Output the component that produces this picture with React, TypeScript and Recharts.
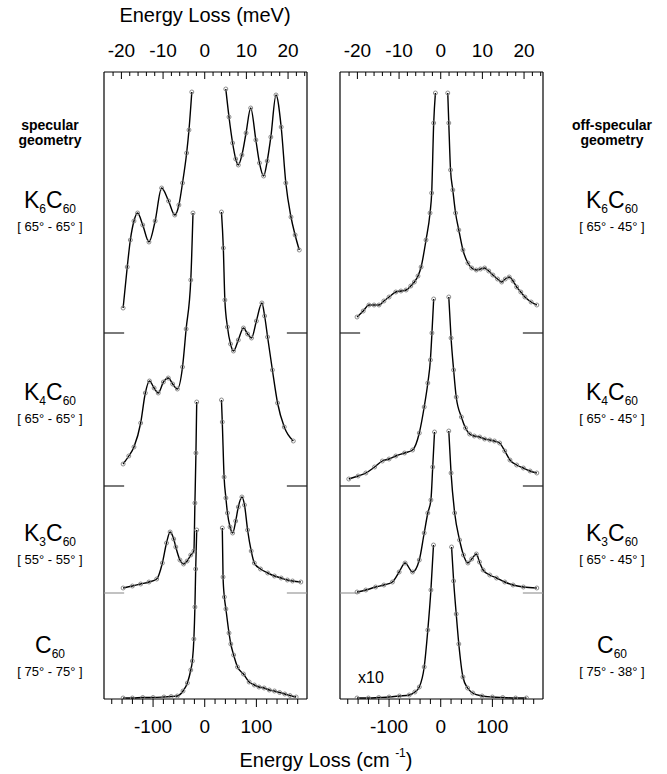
import React from 'react';
import { LineChart, Line, XAxis, YAxis, ReferenceLine } from 'recharts';

const FONT = '"Liberation Sans", Arial, Helvetica, sans-serif';
const CM_PER_MEV = 8.0655;

const xDomain = [-195, 198];
const yDomain = [0, 627];
const cmTicks = [-180, -160, -140, -120, -100, -80, -60, -40, -20, 0, 20, 40, 60, 80, 100, 120, 140, 160, 180];
const cmLabels = [-100, 0, 100];
const meVTicks = [-22, -20, -18, -16, -14, -12, -10, -8, -6, -4, -2, 0, 2, 4, 6, 8, 10, 12, 14, 16, 18, 20, 22, 24];
const meVLabels = [-20, -10, 0, 10, 20];

const compounds = ['K6C60', 'K4C60', 'K3C60', 'C60'];
const specAngles = ['[ 65° - 65° ]', '[ 65° - 65° ]', '[ 55° - 55° ]', '[ 75° - 75° ]'];
const offAngles = ['[ 65° - 45° ]', '[ 65° - 45° ]', '[ 65° - 45° ]', '[ 75° - 38° ]'];
// vertical offset of each spectrum (intensity units, arbitrary)
const baselines = [366, 213, 106, 0];

// specular geometry: [energy loss cm-1, intensity]
const specK6Neg = [[-158, 25], [-150, 66], [-144, 93], [-137, 112], [-130, 120], [-120, 108], [-108, 91], [-96, 112], [-83.5, 145], [-70, 132], [-58, 118], [-50, 128], [-43, 150], [-35, 180], [-30.5, 203], [-25, 241]];
const specK6Pos = [[40.8, 244], [47, 216], [54, 190], [60, 174], [65, 168], [72, 178], [80, 200], [89, 225], [99, 193], [106, 170], [114, 157], [121, 172], [128, 196], [138, 238], [148, 206], [157, 150], [167, 116], [175, 98], [183, 83]];
const specK4Neg = [[-158, 22], [-147, 30], [-137, 39], [-124, 63], [-115, 93], [-107, 105], [-98, 98], [-90, 93], [-80, 104], [-70.5, 108], [-62, 102], [-53, 97], [-43, 119], [-36, 157], [-27, 206], [-22.7, 273]];
const specK4Pos = [[32.4, 274], [36, 238], [39, 186], [44, 159], [50, 142], [55.6, 135], [65, 146], [75, 158], [83, 152], [90.6, 148], [100, 165], [110.7, 183], [116, 170], [121.7, 149], [131, 116], [141, 83], [154, 59], [171.5, 45]];
const specK3Neg = [[-158, 5], [-140, 7], [-124, 9], [-108, 11], [-93, 14], [-82, 30], [-74, 50], [-67, 61], [-60, 54], [-56, 46], [-48, 33], [-41, 29], [-34, 32], [-27, 38], [-21, 42], [-19, 90], [-17, 140], [-15.5, 191]];
const specK3Pos = [[32.4, 193], [34, 171], [37.5, 116], [41, 95], [44, 80], [49, 66], [54, 60], [60, 72], [65, 86], [72, 96], [77, 88], [83, 63], [90, 42], [96, 30], [108, 24], [122, 20], [135, 17], [148, 15], [160, 13], [170, 12], [186, 11]];
const specC60Neg = [[-158, 1], [-140, 1], [-120, 1.5], [-100, 1.5], [-79, 2], [-65, 2.5], [-53, 3], [-42, 8], [-33.6, 16], [-27, 29], [-24, 38], [-21, 60], [-19, 92], [-17.5, 130], [-15.5, 169]];
const specC60Pos = [[34, 171], [35.5, 122], [38, 102], [41, 90], [47, 66], [50.5, 55], [56, 44], [63.5, 32], [75, 25], [86, 17], [96, 14], [105, 12], [115, 11], [125, 9], [135, 8], [145, 6.5], [155, 5], [165, 3.5], [177, 2]];

// off-specular geometry
const offK6Neg = [[-162, 16], [-150, 22], [-139, 28], [-129, 28], [-119.5, 28], [-110, 32], [-100, 36], [-87, 41], [-77, 42], [-67, 43], [-58, 47], [-51, 51], [-44, 57], [-38, 66], [-28.5, 93], [-20.7, 120], [-17.5, 140], [-13.6, 210], [-10.3, 240]];
const offK6Pos = [[13.6, 240], [15.6, 210], [19, 163], [23.4, 143], [28.7, 120], [35, 103], [43, 83], [52.6, 70], [60, 65], [69, 63], [77, 64], [85, 65], [93, 62], [101, 58], [110, 54], [118, 51], [125, 54], [132.6, 56], [140, 52], [147, 46], [155, 41], [163, 36], [175, 31], [186, 28]];
const offK4Neg = [[-178, 7], [-160, 10], [-145, 13], [-128, 19], [-113, 25], [-100, 27], [-87, 30], [-70, 33], [-54.5, 36], [-41.5, 53], [-32, 79], [-25, 103], [-20, 126], [-17, 153], [-13.6, 187]];
const offK4Pos = [[15.6, 189], [20, 148], [25, 116], [30, 89], [40, 69], [48, 58], [56, 52], [65, 50], [75.5, 49], [85, 47], [95, 46], [104, 45], [114, 43], [124, 35], [134, 26], [147, 21], [160, 18], [173, 15], [186, 13]];
const offK3Neg = [[-162, 1], [-145, 3], [-126, 6], [-110, 8], [-93.5, 11], [-80.5, 21], [-69, 30], [-54.5, 21], [-41.5, 33], [-32, 60], [-25, 80], [-19, 93], [-15.5, 126], [-12, 161]];
const offK3Pos = [[15.6, 162], [20, 120], [27, 80], [36.5, 53], [44, 38], [52.6, 30], [60, 34], [69, 39], [75, 31], [82, 23], [95, 18], [108, 15], [124, 11], [140, 8], [160, 6], [186, 5]];
const offC60Neg = [[-162, 1], [-140, 1], [-120, 1.5], [-100, 2], [-80, 3], [-61, 4], [-50, 7], [-41.5, 12], [-32, 32], [-25, 69], [-19, 109], [-14, 154]];
const offC60Pos = [[21, 152], [25, 118], [30, 85], [35, 55], [43, 22], [52, 11], [62, 6], [80, 3], [100, 2], [120, 1.5], [145, 1], [166, 1]];

const specSegments = [[specK6Neg, specK6Pos], [specK4Neg, specK4Pos], [specK3Neg, specK3Pos], [specC60Neg, specC60Pos]];
const offSegments = [[offK6Neg, offK6Pos], [offK4Neg, offK4Pos], [offK3Neg, offK3Pos], [offC60Neg, offC60Pos]];

const TopTick = (props: any) => {
  const { x, y, payload } = props;
  const mev = Math.round(payload.value / CM_PER_MEV);
  const major = meVLabels.includes(mev);
  return (
    <g>
      <line x1={x} x2={x} y1={y} y2={y + (major ? 7 : 4)} stroke="#000" strokeWidth={1} />
      {major && (
        <text x={x} y={y - 15} textAnchor="middle" fontSize={19} fontFamily={FONT} fill="#000">{mev}</text>
      )}
    </g>
  );
};

const BottomTick = (props: any) => {
  const { x, y, payload } = props;
  const major = cmLabels.includes(payload.value);
  return (
    <g>
      <line x1={x} x2={x} y1={y} y2={y + (major ? 8 : 5)} stroke="#000" strokeWidth={1} />
      {major && (
        <text x={x} y={y + 34} textAnchor="middle" fontSize={19} fontFamily={FONT} fill="#000">{payload.value}</text>
      )}
    </g>
  );
};

const Panel = ({ left, segments }: any) => {
  const series = segments.flatMap((pair: any, i: number) =>
    pair.map((seg: number[][], j: number) => ({
      key: `s${i}-${j}`,
      data: seg.map(([x, y]) => ({ x, y: y + baselines[i] })),
    }))
  );
  return (
    <div style={{ position: 'absolute', left, top: 0 }}>
      <LineChart width={260} height={774} margin={{ top: 32, right: 13, bottom: 45, left: 44 }}>
        <XAxis xAxisId="cm" dataKey="x" type="number" domain={xDomain} ticks={cmTicks} allowDataOverflow
          interval={0} height={30} tickSize={0} tickMargin={0} tickLine={false}
          axisLine={{ stroke: '#000', strokeWidth: 1.2 }} tick={<BottomTick />} />
        <XAxis xAxisId="mev" orientation="top" dataKey="x" type="number" domain={xDomain}
          ticks={meVTicks.map((v) => v * CM_PER_MEV)} allowDataOverflow interval={0} height={40}
          tickSize={0} tickMargin={0} tickLine={false}
          axisLine={{ stroke: '#000', strokeWidth: 1.2 }} tick={<TopTick />} />
        <YAxis hide type="number" domain={yDomain} allowDataOverflow />
        <ReferenceLine xAxisId="cm" x={xDomain[0]} stroke="#000" strokeWidth={1.2} />
        <ReferenceLine xAxisId="cm" x={xDomain[1]} stroke="#000" strokeWidth={1.2} />
        {baselines.slice(0, 3).map((b, i) => (
          <ReferenceLine key={`l${i}`} xAxisId="cm" segment={[{ x: xDomain[0], y: b }, { x: -156, y: b }]}
            stroke={i < 2 ? '#222' : '#999'} strokeWidth={1.2} />
        ))}
        {baselines.slice(0, 3).map((b, i) => (
          <ReferenceLine key={`r${i}`} xAxisId="cm" segment={[{ x: 159, y: b }, { x: xDomain[1], y: b }]}
            stroke={i < 2 ? '#222' : '#999'} strokeWidth={1.2} />
        ))}
        {series.map((s: any) => (
          <Line key={s.key} xAxisId="cm" data={s.data} dataKey="y" type="monotone" stroke="#000"
            strokeWidth={1.4} dot={{ r: 2, stroke: '#808080', strokeWidth: 0.9, fill: 'none' }}
            isAnimationActive={false} />
        ))}
      </LineChart>
    </div>
  );
};

const Formula = ({ name }: { name: string }) => (
  <span>
    {name.split(/(\d+)/).filter(Boolean).map((p, i) =>
      /\d/.test(p)
        ? <span key={i} style={{ fontSize: 12, position: 'relative', top: 5 }}>{p}</span>
        : <span key={i}>{p}</span>
    )}
  </span>
);

const labelY = [200, 392, 533, 645];

const SideLabels = ({ cx, title, angles }: any) => (
  <>
    <div style={{ position: 'absolute', left: cx - 60, width: 120, top: 118, textAlign: 'center', fontWeight: 'bold', fontSize: 14, lineHeight: '15px' }}>
      {title.map((t: string) => <div key={t}>{t}</div>)}
    </div>
    {compounds.map((c, i) => (
      <React.Fragment key={c}>
        <div style={{ position: 'absolute', left: cx - 60, width: 120, top: labelY[i] - 13, textAlign: 'center', fontSize: 23, lineHeight: '26px' }}>
          <Formula name={c} />
        </div>
        <div style={{ position: 'absolute', left: cx - 60, width: 120, top: labelY[i] + 19, textAlign: 'center', fontSize: 13, lineHeight: '16px' }}>
          {angles[i]}
        </div>
      </React.Fragment>
    ))}
  </>
);

export default function App() {
  return (
    <div style={{ position: 'absolute', left: 0, top: 0, width: 667, height: 774, background: '#fff', fontFamily: FONT, color: '#000', overflow: 'hidden' }}>
      <div style={{ position: 'absolute', left: 105, width: 200, top: 4, textAlign: 'center', fontSize: 20 }}>Energy Loss (meV)</div>
      <Panel left={60} segments={specSegments} />
      <Panel left={296} segments={offSegments} />
      <SideLabels cx={50} title={['specular', 'geometry']} angles={specAngles} />
      <SideLabels cx={612} title={['off-specular', 'geometry']} angles={offAngles} />
      <div style={{ position: 'absolute', left: 358, top: 669, fontSize: 16 }}>x10</div>
      <div style={{ position: 'absolute', left: 216, width: 220, top: 748, textAlign: 'center', fontSize: 20 }}>
        Energy Loss (cm <sup style={{ fontSize: 12, position: 'relative', top: -2 }}>-1</sup>)
      </div>
    </div>
  );
}
